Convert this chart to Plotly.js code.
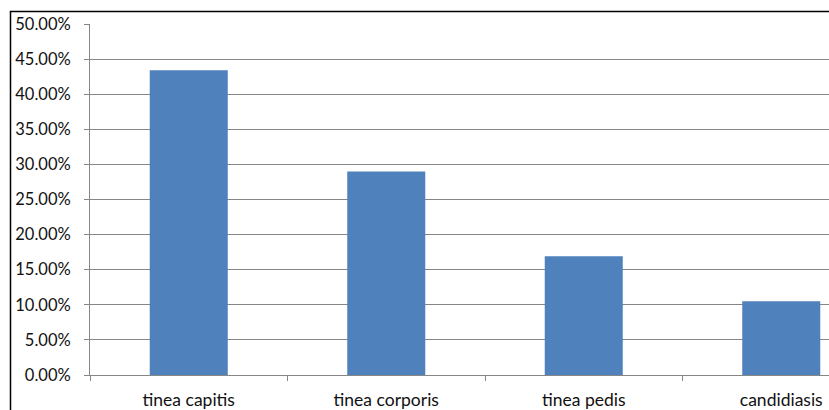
<!DOCTYPE html>
<html>
<head>
<meta charset="utf-8">
<script src="https://cdn.plot.ly/plotly-3.0.1.min.js"></script>
<style>
html,body{margin:0;padding:0;background:#fff;overflow:hidden;}
#chart{width:829px;height:410px;}
</style>
</head>
<body>
<div id="chart"></div>
<script>
const categories = ["tinea capitis", "tinea corporis", "tinea pedis", "candidiasis"];
const percentages = [0.434, 0.29, 0.169, 0.105];
const yTickValues = [0, 0.05, 0.10, 0.15, 0.20, 0.25, 0.30, 0.35, 0.40, 0.45, 0.50];
const yTickLabels = ["0.00%","5.00%","10.00%","15.00%","20.00%","25.00%","30.00%","35.00%","40.00%","45.00%","50.00%"];

const plotLeft = 90, plotTop = 24, plotBottom = 375, W = 829, H = 410;
const plotW = W - plotLeft, plotH = plotBottom - plotTop;

const trace = {
  type: "bar",
  x: categories,
  y: percentages,
  width: 0.395,
  marker: {color: "#4F81BD", line: {width: 0}},
  hoverinfo: "x+y"
};

const layout = {
  width: W, height: H,
  margin: {l: plotLeft, r: 0, t: plotTop, b: H - plotBottom, pad: 0},
  paper_bgcolor: "#fff", plot_bgcolor: "#fff",
  showlegend: false,
  font: {family: "Lato, 'Open Sans', sans-serif", size: 16, color: "#111"},
  xaxis: {
    type: "category",
    range: [-0.5, -0.5 + plotW / 197.5],
    showgrid: false,
    showline: true, linecolor: "#868686", linewidth: 1,
    ticks: "outside", ticklen: 5, tickcolor: "#868686",
    tickson: "boundaries",
    tickfont: {size: 17.5},
    ticklabelstandoff: 9,
    zeroline: false,
    fixedrange: true
  },
  yaxis: {
    range: [0, 0.5],
    tickvals: yTickValues, ticktext: yTickLabels,
    showgrid: true, gridcolor: "#868686", gridwidth: 1,
    showline: true, linecolor: "#868686", linewidth: 1,
    ticks: "outside", ticklen: 5, tickcolor: "#868686",
    tickfont: {size: 16.5},
    ticklabelstandoff: 10,
    zeroline: false,
    fixedrange: true
  },
  shapes: [{
    type: "rect", xref: "paper", yref: "paper",
    x0: (10.5 - plotLeft) / plotW, x1: 1.1,
    y0: -0.3, y1: (plotBottom - 11.5) / plotH,
    line: {color: "#000", width: 1.5},
    fillcolor: "rgba(0,0,0,0)",
    layer: "above"
  }]
};

Plotly.newPlot("chart", [trace], layout, {displayModeBar: false, staticPlot: true});
</script>
</body>
</html>
